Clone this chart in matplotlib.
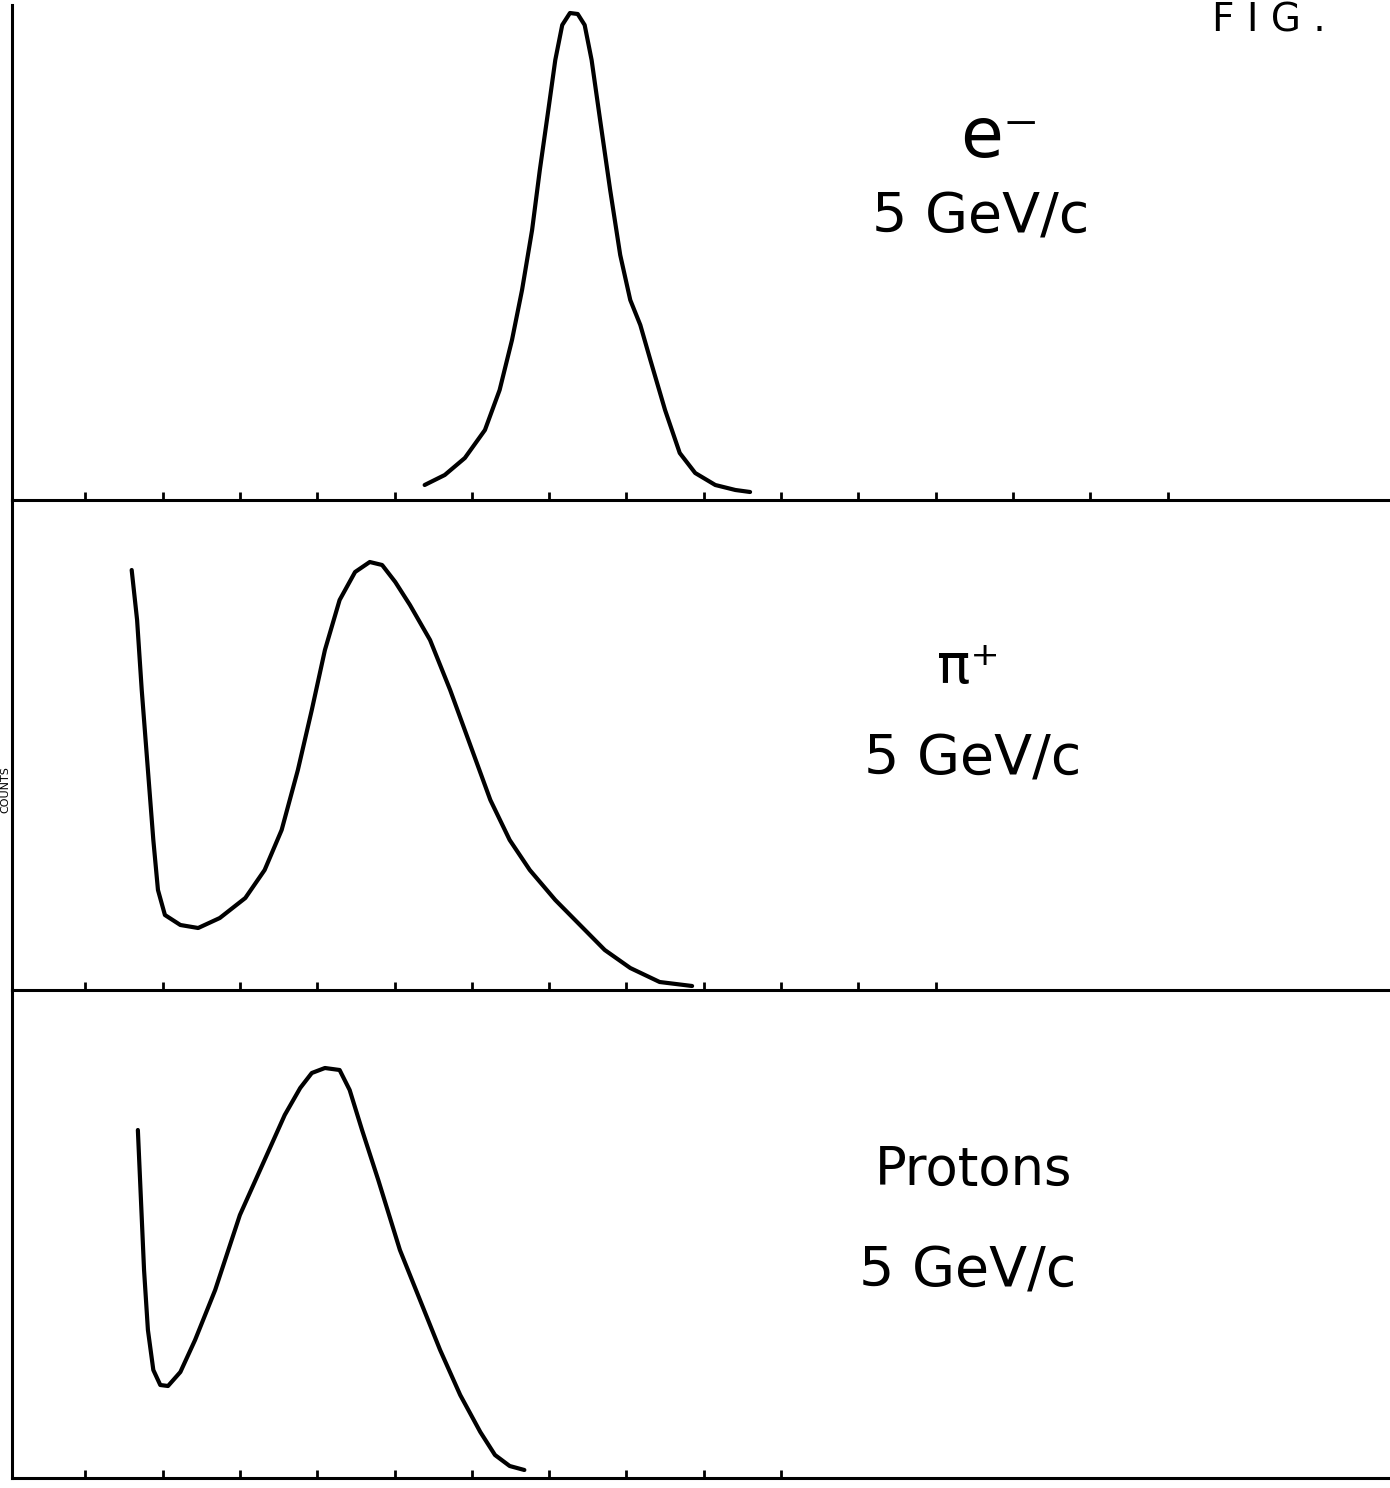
import matplotlib
matplotlib.use("Agg")
import matplotlib.pyplot as plt

# ---- data (x in tick units, y in arbitrary counts) ----
e_x = [5.39, 5.65, 5.91, 6.17, 6.36, 6.52, 6.65, 6.78, 6.88, 6.99, 7.08, 7.17, 7.27, 7.37,
       7.46, 7.55, 7.66, 7.79, 7.92, 8.05, 8.18, 8.31, 8.50, 8.69, 8.89, 9.15, 9.41, 9.60]
e_y = [15, 25, 42, 70, 110, 160, 210, 270, 330, 390, 440, 475, 487, 486,
       475, 440, 380, 310, 245, 200, 175, 140, 90, 47, 27, 15, 10, 8]

pi_x = [1.60, 1.67, 1.73, 1.81, 1.88, 1.94, 2.03, 2.23, 2.46, 2.74, 3.07, 3.32, 3.54, 3.75,
        3.93, 4.10, 4.29, 4.49, 4.68, 4.84, 5.01, 5.20, 5.46, 5.72, 5.98, 6.24, 6.49,
        6.75, 7.08, 7.40, 7.72, 8.05, 8.43, 8.85]
pi_y = [420, 370, 300, 220, 150, 100, 75, 65, 62, 72, 92, 120, 160, 220,
        280, 340, 390, 418, 428, 425, 408, 385, 350, 300, 245, 190, 150,
        120, 90, 65, 40, 22, 8, 4]

p_x = [1.68, 1.72, 1.76, 1.81, 1.88, 1.97, 2.07, 2.23, 2.42, 2.68, 3.00, 3.29, 3.58, 3.78,
       3.93, 4.10, 4.29, 4.42, 4.58, 4.79, 5.07, 5.33, 5.59, 5.85, 6.11, 6.30, 6.49, 6.68]
p_y = [348, 278, 208, 148, 108, 93, 92, 106, 138, 188, 263, 313, 363, 390,
       405, 410, 408, 388, 348, 298, 228, 178, 128, 83, 46, 23, 12, 8]

ticks_top = list(range(1, 16))
ticks_mid = list(range(1, 13))
ticks_bot = list(range(1, 11))

labels_particle = ["e\u207b", "\u03c0\u207a", "Protons"]
label_momentum = "5 GeV/c"

W, H = 1390, 1488
fig = plt.figure(figsize=(W / 100, H / 100), dpi=100)
fig.patch.set_facecolor("white")

left_px, right_px = 12, 1388
panels = [(5, 500), (500, 990), (990, 1478)]
xlim = ((left_px - 8) / 77.3, (right_px - 8) / 77.3)

series = [(e_x, e_y, ticks_top), (pi_x, pi_y, ticks_mid), (p_x, p_y, ticks_bot)]
axes = []
for (top, bot), (xs, ys, tks) in zip(panels, series):
    ax = fig.add_axes([left_px / W, 1 - bot / H, (right_px - left_px) / W, (bot - top) / H])
    ax.set_facecolor("none")
    ax.plot(xs, ys, color="black", lw=3.0, solid_capstyle="round", solid_joinstyle="round")
    ax.set_xlim(*xlim)
    ax.set_ylim(0, bot - top)
    for s in ["top", "right"]:
        ax.spines[s].set_visible(False)
    for s in ["left", "bottom"]:
        ax.spines[s].set_linewidth(2.2)
        ax.spines[s].set_color("black")
    ax.set_xticks(tks)
    ax.set_xticklabels([])
    ax.set_yticks([])
    ax.tick_params(axis="x", direction="in", length=6, width=2, color="black")
    axes.append(ax)

def ftext(px, py, s, size, **kw):
    fig.text(px / W, 1 - py / H, s, fontsize=size, ha="center", va="center",
             family="DejaVu Sans", color="black", **kw)

ftext(1000, 138, labels_particle[0], 50)
ftext(981, 218, label_momentum, 40)
ftext(968, 668, labels_particle[1], 40)
ftext(973, 760, label_momentum, 40)
ftext(974, 1170, labels_particle[2], 38)
ftext(968, 1272, label_momentum, 40)

# annotations near the figure edges
fig.text(1212 / W, 1 - 1 / H, "F I G .", fontsize=28, ha="left", va="top",
         family="DejaVu Sans", color="black")
fig.text(5 / W, 1 - 790 / H, "COUNTS", fontsize=8, rotation=90, ha="center",
         va="center", family="DejaVu Sans", color="black")

fig.savefig("out.png", dpi=100, facecolor="white")
